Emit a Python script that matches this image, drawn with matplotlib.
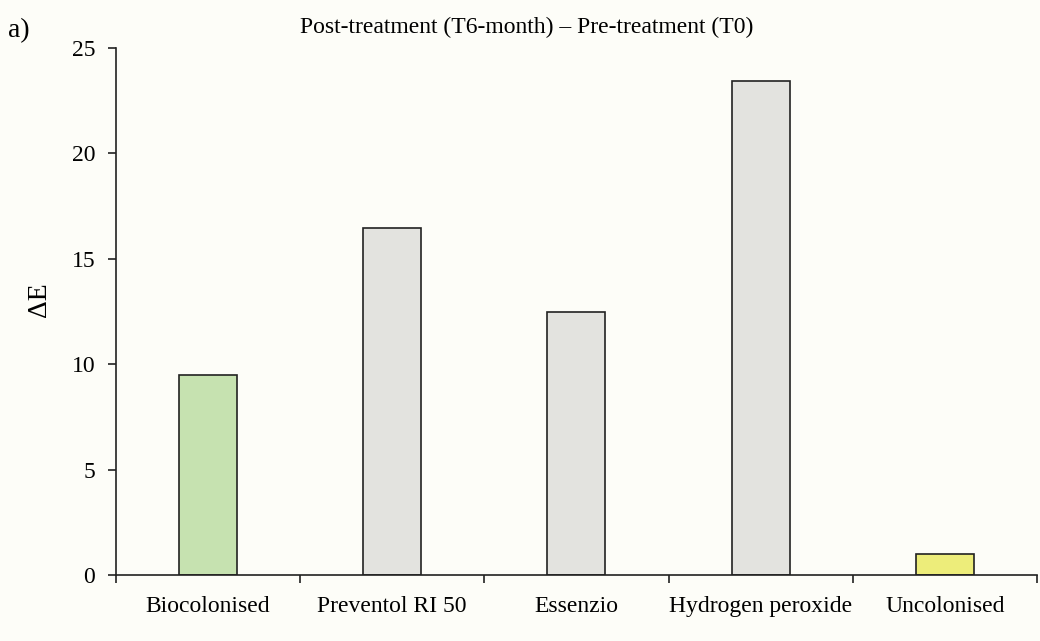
import matplotlib.pyplot as plt
import numpy as np

categories = ["Biocolonised", "Preventol RI 50", "Essenzio", "Hydrogen peroxide", "Uncolonised"]
delta_e = [9.5, 16.45, 12.5, 23.45, 1.0]
bar_colors = ["#c6e2b0", "#e3e3df", "#e3e3df", "#e3e3df", "#eded7a"]

plt.rcParams['font.family'] = ['Liberation Serif', 'DejaVu Serif']

bg = "#fdfdf8"
fig = plt.figure(figsize=(10.4, 6.41), dpi=100, facecolor=bg)
ax = fig.add_axes([0.1115, 0.103, 0.8855, 0.822], facecolor=bg)

x = np.arange(len(categories))
ax.bar(x, delta_e, width=0.315, color=bar_colors, edgecolor="#222222", linewidth=1.2, zorder=2)

ax.set_xlim(-0.5, len(categories) - 0.5)
ax.set_ylim(0, 25)
ax.set_yticks(np.arange(0, 26, 5))
ax.set_xticks(x)
ax.set_xticklabels(categories)
ax.set_xticks(np.arange(-0.5, len(categories), 1), minor=True)
ax.tick_params(axis='x', which='major', length=0, pad=15, labelsize=17)
ax.tick_params(axis='x', which='minor', length=6, width=1.2, color="#222222")
ax.tick_params(axis='y', length=6, width=1.2, color="#222222", labelsize=17, pad=9)

for s in ["top", "right"]:
    ax.spines[s].set_visible(False)
for s in ["left", "bottom"]:
    ax.spines[s].set_linewidth(1.2)
    ax.spines[s].set_color("#222222")

fig.text(0.038, 0.532, "ΔE", rotation=90, ha="center", va="center", fontsize=20)
fig.text(0.506, 0.957, "Post-treatment (T6-month) – Pre-treatment (T0)", ha="center", va="center", fontsize=17)
fig.text(0.008, 0.953, "a)", ha="left", va="center", fontsize=20)

fig.savefig("out.png", dpi=100, facecolor=bg)
